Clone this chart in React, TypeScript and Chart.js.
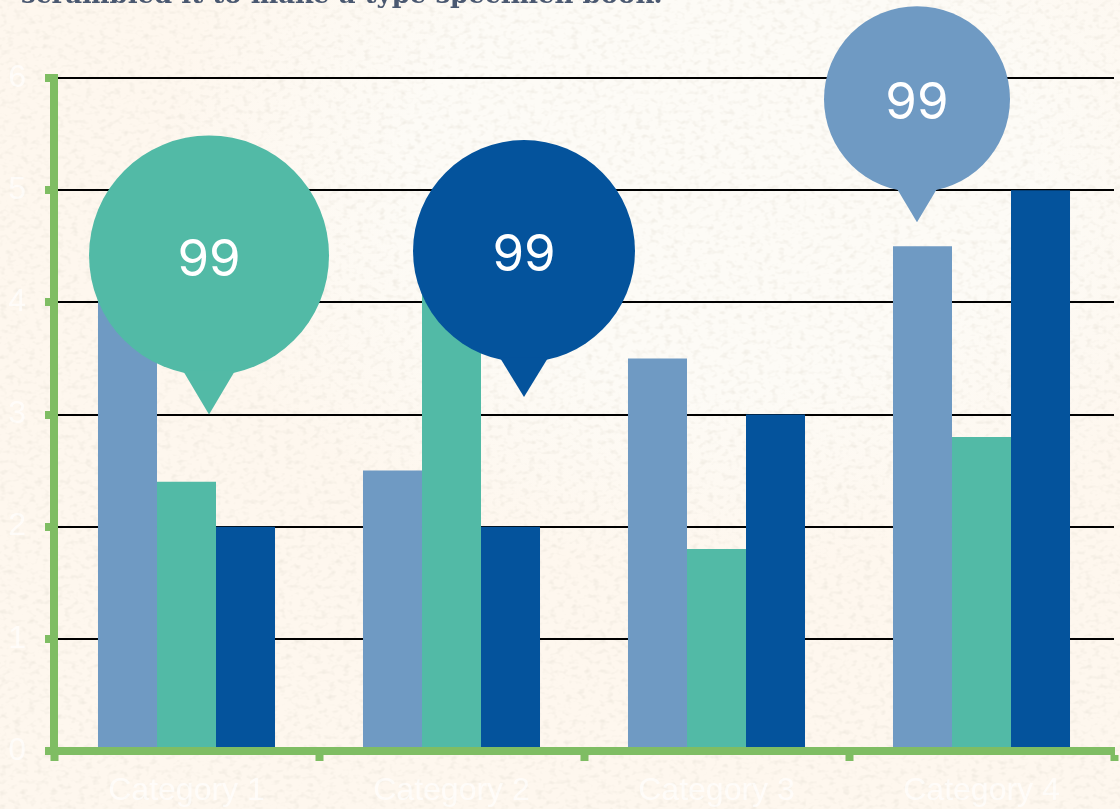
import React, { useEffect, useRef } from "react";
import { Chart, registerables } from "chart.js";

Chart.register(...registerables);

const categories = ["Category 1", "Category 2", "Category 3", "Category 4"];
const series1 = [4.3, 2.5, 3.5, 4.5];
const series2 = [2.4, 4.4, 1.8, 2.8];
const series3 = [2, 2, 3, 5];
const seriesNames = ["Series 1", "Series 2", "Series 3"];
const seriesColors = ["#6f9ac3", "#52baa6", "#04539c"];

const bubbleLabels = ["99", "99", "99"];
const bubbleCategoryPos = [0.085, 1.2736, 2.7566];
const bubbleTipValues = [3.0, 3.155, 4.715];
const bubbleRadii = [120, 111, 93];
const bubbleRises = [159, 146, 123];
const bubbleFontSizes = [51, 51, 51];
const bubbleColors = ["#52baa6", "#04539c", "#6f9ac3"];

const headingText = "scrambled it to make a type specimen book.";

const noise =
  "data:image/svg+xml," +
  encodeURIComponent(
    `<svg xmlns='http://www.w3.org/2000/svg' width='1120' height='809'><filter id='n' x='0' y='0' width='100%' height='100%'><feTurbulence type='fractalNoise' baseFrequency='0.14 0.2' numOctaves='2' seed='7'/><feColorMatrix values='0 0 0 0 0.76  0 0 0 0 0.72  0 0 0 0 0.64  0 0 0 1.1 -0.55'/></filter><rect width='1120' height='809' filter='url(#n)'/></svg>`
  );

const bubblesPlugin = {
  id: "bubbles",
  afterDraw(chart: any) {
    const { ctx, scales } = chart;
    bubbleLabels.forEach((label, i) => {
      const tipX = scales.x.getPixelForValue(bubbleCategoryPos[i]);
      const tipY = scales.y.getPixelForValue(bubbleTipValues[i]);
      const r = bubbleRadii[i];
      const cy = tipY - bubbleRises[i];
      ctx.save();
      ctx.fillStyle = bubbleColors[i];
      ctx.beginPath();
      ctx.arc(tipX, cy, r, 0, Math.PI * 2);
      ctx.fill();
      const halfW = 24 * (r / 120) + 2;
      const dy = Math.sqrt(r * r - halfW * halfW);
      ctx.beginPath();
      ctx.moveTo(tipX - halfW, cy + dy - 2);
      ctx.lineTo(tipX + halfW, cy + dy - 2);
      ctx.lineTo(tipX, tipY);
      ctx.closePath();
      ctx.fill();
      ctx.fillStyle = "#ffffff";
      ctx.font = `400 ${bubbleFontSizes[i]}px Inter, "Noto Sans", sans-serif`;
      ctx.textAlign = "center";
      ctx.textBaseline = "middle";
      ctx.fillText(label, tipX, cy + 5);
      ctx.restore();
    });
  },
};

const headingPlugin = {
  id: "heading",
  afterDraw(chart: any) {
    const { ctx } = chart;
    ctx.save();
    ctx.fillStyle = "#4a5870";
    ctx.font = 'bold 26px "DejaVu Serif", serif';
    ctx.textAlign = "left";
    ctx.textBaseline = "alphabetic";
    ctx.fillText(headingText, 21, 3);
    ctx.restore();
  },
};

export default function App() {
  const ref = useRef<HTMLCanvasElement | null>(null);
  useEffect(() => {
    const chart = new Chart(ref.current as HTMLCanvasElement, {
      type: "bar",
      data: {
        labels: categories,
        datasets: [series1, series2, series3].map((d, i) => ({
          label: seriesNames[i],
          data: d,
          backgroundColor: seriesColors[i],
          categoryPercentage: 0.668,
          barPercentage: 1,
        })),
      },
      options: {
        animation: false,
        responsive: false,
        layout: { padding: { top: 78, right: 6, left: 0, bottom: 0 } },
        plugins: { legend: { display: false }, tooltip: { enabled: false } },
        scales: {
          x: {
            afterFit(s: any) {
              s.height = 58;
            },
            border: { color: "#7fbd63", width: 8, z: 1 },
            grid: {
              drawOnChartArea: false,
              drawTicks: true,
              tickColor: "#7fbd63",
              tickWidth: 8,
              tickLength: 10,
              z: 1,
            },
            ticks: {
              color: "rgba(255,255,255,0.65)",
              padding: 11,
              maxRotation: 0,
              font: { family: '"Liberation Sans", Arial, sans-serif', size: 32 },
            },
          },
          y: {
            min: 0,
            max: 6,
            afterFit(s: any) {
              s.width = 54;
            },
            border: { color: "#7fbd63", width: 8, z: 1 },
            grid: {
              color: "#000000",
              lineWidth: 2,
              tickColor: "#7fbd63",
              tickWidth: 8,
              tickLength: 9,
            },
            ticks: {
              stepSize: 1,
              color: "rgba(255,255,255,0.65)",
              padding: 19,
              font: { family: '"Liberation Sans", Arial, sans-serif', size: 32 },
            },
          },
        },
      },
      plugins: [bubblesPlugin, headingPlugin],
    } as any);
    return () => chart.destroy();
  }, []);

  return (
    <div
      style={{
        position: "fixed",
        left: 0,
        top: 0,
        width: 1120,
        height: 809,
        overflow: "hidden",
        backgroundColor: "#fef7ee",
        backgroundImage: `url("${noise}"), radial-gradient(ellipse 560px 400px at 720px 170px, #fdfbf6 55%, #fef7ee 100%)`,
      }}
    >
      <canvas ref={ref} width={1120} height={809} style={{ display: "block" }} />
    </div>
  );
}
